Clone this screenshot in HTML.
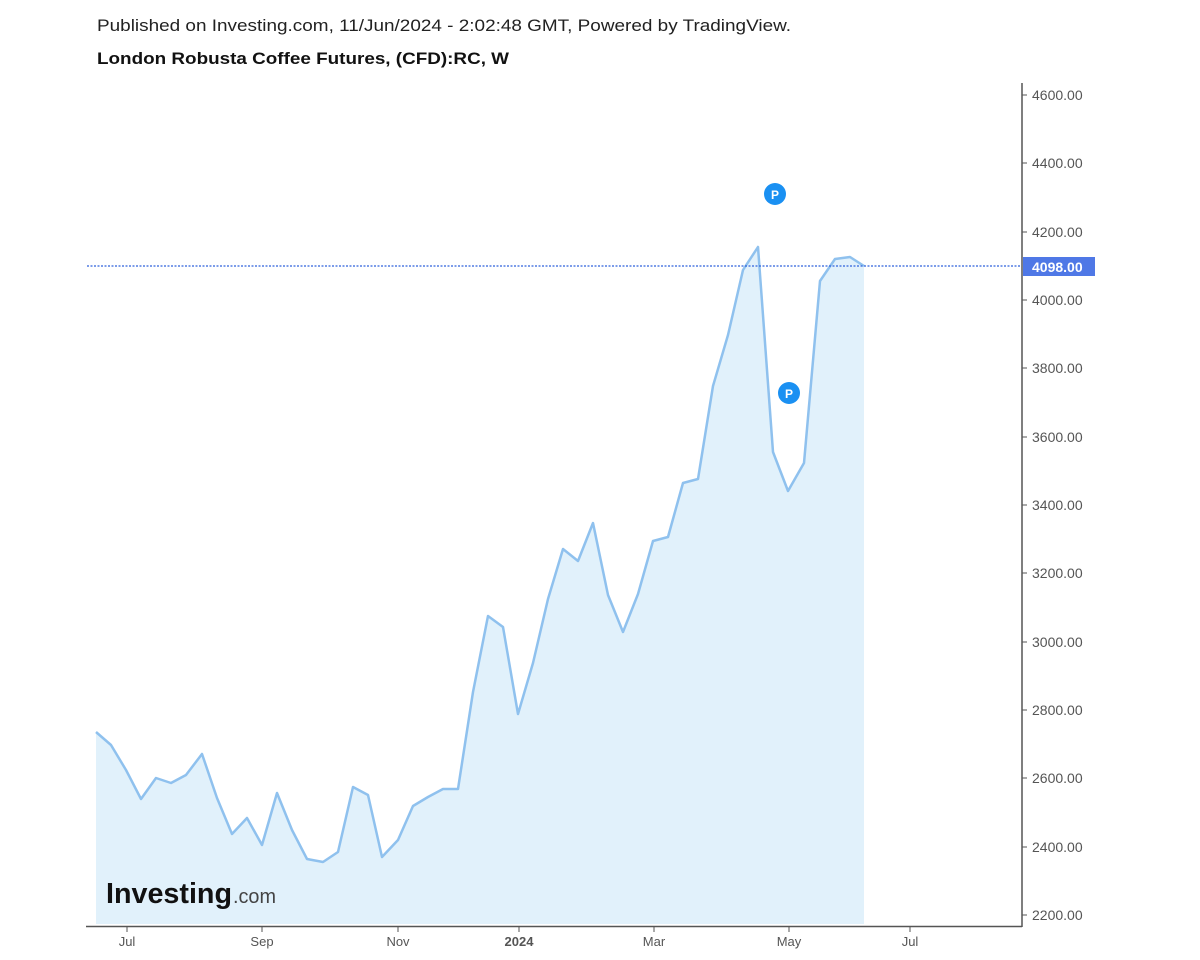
<!DOCTYPE html>
<html><head><meta charset="utf-8"><style>
html,body{margin:0;padding:0;background:#fff;}
svg{display:block;font-family:"Liberation Sans",Arial,sans-serif;}
</style></head><body>
<svg width="1200" height="960" viewBox="0 0 1200 960" xmlns="http://www.w3.org/2000/svg">
<rect width="1200" height="960" fill="#fff"/>
<text x="97" y="31" font-size="17" fill="#222" textLength="694" lengthAdjust="spacingAndGlyphs">Published on Investing.com, 11/Jun/2024 - 2:02:48 GMT, Powered by TradingView.</text>
<text x="97" y="64" font-size="17" font-weight="bold" fill="#111" textLength="412" lengthAdjust="spacingAndGlyphs">London Robusta Coffee Futures, (CFD):RC, W</text>

<polygon fill="#e1f1fb" points="96,924 96,732 111,745 126,770 141,799 156,778 171,783 186,775 202,754 217,798 232,834 247,818 262,845 277,793 292,830 307,859 323,862 338,852 353,787 368,795 382,857 398,840 413,806 428,797 443,789 458,789 473,692 488,616 503,627 518,714 533,663 548,599 563,549 578,561 593,523 608,595 623,632 638,594 653,541 668,537 683,483 698,479 713,386 728,335 743,270 758,247 773,452 788,491 804,463 820,281 835,259 850,257 864,266 864,924"/>
<polyline fill="none" stroke="#8fc1ee" stroke-width="2.5" stroke-linejoin="round" points="96,732 111,745 126,770 141,799 156,778 171,783 186,775 202,754 217,798 232,834 247,818 262,845 277,793 292,830 307,859 323,862 338,852 353,787 368,795 382,857 398,840 413,806 428,797 443,789 458,789 473,692 488,616 503,627 518,714 533,663 548,599 563,549 578,561 593,523 608,595 623,632 638,594 653,541 668,537 683,483 698,479 713,386 728,335 743,270 758,247 773,452 788,491 804,463 820,281 835,259 850,257 864,266"/>

<line x1="87" y1="266" x2="1022" y2="266" stroke="#2f62dc" stroke-width="1.2" stroke-dasharray="2,1.5"/>

<circle cx="775" cy="194" r="11" fill="#1a90f2"/>
<text x="775" y="199" font-size="12" font-weight="bold" fill="#fff" text-anchor="middle">P</text>
<circle cx="789" cy="393" r="11" fill="#1a90f2"/>
<text x="789" y="398" font-size="12" font-weight="bold" fill="#fff" text-anchor="middle">P</text>

<text x="106" y="903" font-size="29" font-weight="bold" fill="#111" textLength="126" lengthAdjust="spacingAndGlyphs">Investing</text>
<text x="233" y="903" font-size="20" fill="#444" textLength="43" lengthAdjust="spacingAndGlyphs">.com</text>

<line x1="1022" y1="83" x2="1022" y2="927" stroke="#555" stroke-width="1.5"/>
<line x1="86" y1="926.5" x2="1022" y2="926.5" stroke="#555" stroke-width="1.5"/>
<g stroke="#555" stroke-width="1">
<line x1="1022" y1="95" x2="1027" y2="95"/><line x1="1022" y1="163" x2="1027" y2="163"/>
<line x1="1022" y1="232" x2="1027" y2="232"/><line x1="1022" y1="300" x2="1027" y2="300"/>
<line x1="1022" y1="368" x2="1027" y2="368"/><line x1="1022" y1="437" x2="1027" y2="437"/>
<line x1="1022" y1="505" x2="1027" y2="505"/><line x1="1022" y1="573" x2="1027" y2="573"/>
<line x1="1022" y1="642" x2="1027" y2="642"/><line x1="1022" y1="710" x2="1027" y2="710"/>
<line x1="1022" y1="778" x2="1027" y2="778"/><line x1="1022" y1="847" x2="1027" y2="847"/>
<line x1="1022" y1="915" x2="1027" y2="915"/>
<line x1="127" y1="927" x2="127" y2="932"/><line x1="262" y1="927" x2="262" y2="932"/>
<line x1="398" y1="927" x2="398" y2="932"/><line x1="519" y1="927" x2="519" y2="932"/>
<line x1="654" y1="927" x2="654" y2="932"/><line x1="789" y1="927" x2="789" y2="932"/>
<line x1="910" y1="927" x2="910" y2="932"/>
</g>
<g font-size="14" fill="#555" font-weight="500">
<text x="1032" y="100">4600.00</text><text x="1032" y="168">4400.00</text>
<text x="1032" y="237">4200.00</text><text x="1032" y="305">4000.00</text>
<text x="1032" y="373">3800.00</text><text x="1032" y="442">3600.00</text>
<text x="1032" y="510">3400.00</text><text x="1032" y="578">3200.00</text>
<text x="1032" y="647">3000.00</text><text x="1032" y="715">2800.00</text>
<text x="1032" y="783">2600.00</text><text x="1032" y="852">2400.00</text>
<text x="1032" y="920">2200.00</text>
</g>
<rect x="1023" y="257" width="72" height="19" fill="#4f78e6"/>
<text x="1032" y="272" font-size="14" font-weight="bold" fill="#fff">4098.00</text>
<g font-size="13" fill="#555" text-anchor="middle">
<text x="127" y="946">Jul</text><text x="262" y="946">Sep</text>
<text x="398" y="946">Nov</text><text x="519" y="946" font-weight="bold">2024</text>
<text x="654" y="946">Mar</text><text x="789" y="946">May</text>
<text x="910" y="946">Jul</text>
</g>
</svg>
</body></html>
